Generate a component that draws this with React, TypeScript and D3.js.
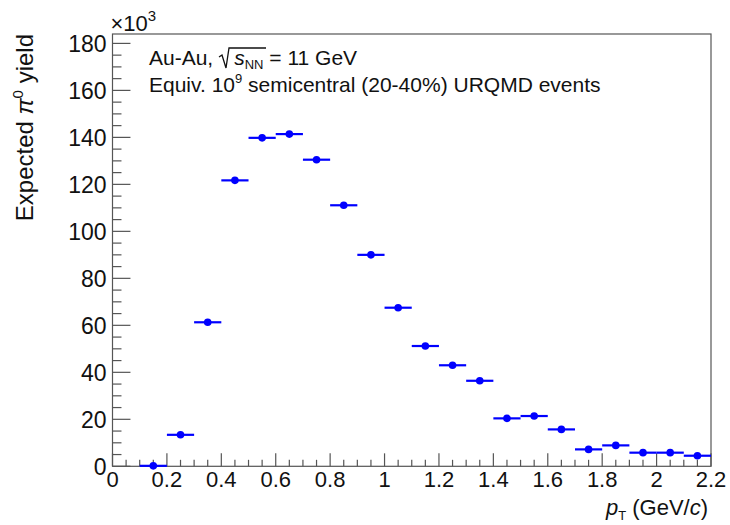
import React from "react";
import * as d3 from "d3";

const binLow = [0.1,0.2,0.3,0.4,0.5,0.6,0.7,0.8,0.9,1.0,1.1,1.2,1.3,1.4,1.5,1.6,1.7,1.8,1.9,2.0,2.1];
const yieldK = [0.2,13.4,61.3,121.7,139.8,141.4,130.5,111.1,90.0,67.5,51.2,43.0,36.4,20.4,21.4,15.7,7.2,8.9,5.8,5.8,4.5];
const binWidth = 0.1;
const xTicks = [0,0.2,0.4,0.6,0.8,1,1.2,1.4,1.6,1.8,2,2.2];
const yTicks = [0,20,40,60,80,100,120,140,160,180];

const W = 730, H = 525;
const L = 112.5, R = 711, T = 34, B = 466.3;
const FONT = "'Liberation Sans', Arial, Helvetica, sans-serif";

export default function App() {
  const x = d3.scaleLinear().domain([0, 2.2]).range([L, R]);
  const y = d3.scaleLinear().domain([0, 184]).range([B, T]);
  const xMinor = d3.range(0, 2.2001, 0.05);
  const yMinor = d3.range(0, 184, 5);
  const axisColor = "#555";
  const fw = R - L, fh = B - T;
  const yMaj = 0.03 * fw, yMin = yMaj / 2;
  const xMaj = 0.03 * fh, xMin = xMaj / 2;
  const s0 = 149 + 72; // start of sqrt sign
  const b1 = 65;
  return (
    <svg width={W} height={H} style={{ position: "absolute", left: 0, top: 0, background: "#fff" }} fontFamily={FONT}>
      <rect x={0} y={0} width={W} height={H} fill="#fff" />
      <rect x={L} y={T} width={fw} height={fh} fill="none" stroke={axisColor} strokeWidth={1.2} />
      {yMinor.map((v, i) => (
        <line key={"ym" + i} x1={L} x2={L + (v % 20 === 0 ? yMaj : yMin)} y1={y(v)} y2={y(v)} stroke={axisColor} strokeWidth={1.2} />
      ))}
      {xMinor.map((v, i) => (
        <line key={"xm" + i} x1={x(v)} x2={x(v)} y1={B} y2={B - (i % 4 === 0 ? xMaj : xMin)} stroke={axisColor} strokeWidth={1.2} />
      ))}
      {yTicks.map((v) => (
        <text key={"yl" + v} x={L - 6} y={y(v)} dy="0.36em" textAnchor="end" fontSize={23} fill="#111">{v}</text>
      ))}
      {xTicks.map((v) => (
        <text key={"xl" + v} x={x(v)} y={B + 21} textAnchor="middle" fontSize={22} fill="#111">{d3.format("~g")(v)}</text>
      ))}
      <text x={L - 2} y={31} fontSize={22} fill="#111">×10<tspan dy={-10} fontSize={15}>3</tspan></text>
      <text transform={`translate(33,${T}) rotate(-90)`} textAnchor="end" fontSize={24} fill="#111">
        Expected <tspan fontStyle="italic">π</tspan><tspan dy={-10} fontSize={15}>0</tspan><tspan dy={10}> yield</tspan>
      </text>
      <text x={708} y={515} textAnchor="end" fontSize={22} fill="#111">
        <tspan fontStyle="italic">p</tspan><tspan dy={5} fontSize={13}>T</tspan><tspan dy={-5}> (GeV/</tspan><tspan fontStyle="italic">c</tspan>)
      </text>
      <text x={149} y={b1} fontSize={21} fill="#111">
        Au-Au,<tspan dx={21} fontStyle="italic">s</tspan><tspan dy={4} fontSize={13}>NN</tspan><tspan dy={-4}> = 11 GeV</tspan>
      </text>
      <path d={`M${s0 - 2},${b1 - 8} L${s0 + 1},${b1 - 10} L${s0 + 5},${b1 + 3} L${s0 + 8},${b1 - 17} L${s0 + 45},${b1 - 17}`} fill="none" stroke="#111" strokeWidth={1.3} />
      <text x={149} y={92} fontSize={21} fill="#111">
        Equiv. 10<tspan dy={-9} fontSize={13}>9</tspan><tspan dy={9}> semicentral (20-40%) URQMD events</tspan>
      </text>
      {binLow.map((b, i) => {
        const cx = x(b + binWidth / 2);
        const cy = y(yieldK[i]);
        return (
          <g key={"p" + i}>
            <line x1={x(b)} x2={x(b + binWidth)} y1={cy} y2={cy} stroke="#0000ff" strokeWidth={2.2} />
            <circle cx={cx} cy={cy} r={3.8} fill="#0000ff" />
          </g>
        );
      })}
    </svg>
  );
}
